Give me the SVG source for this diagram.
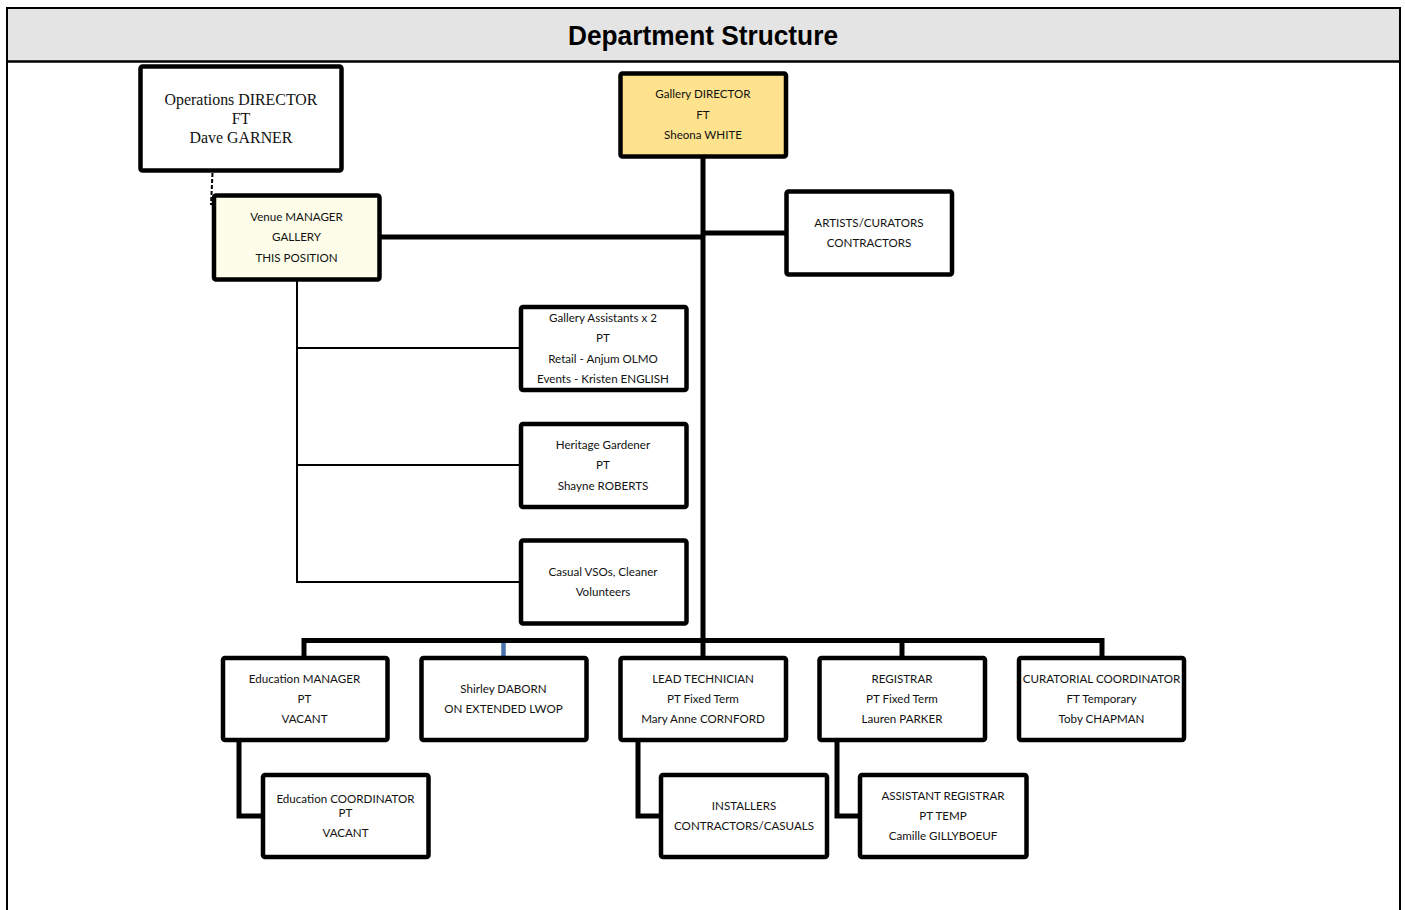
<svg xmlns="http://www.w3.org/2000/svg" width="1405" height="910" viewBox="0 0 1405 910">
<style>
.box{fill:#fff;stroke:#000;stroke-width:4.5}
.t{font-family:Lato,"Open Sans","Liberation Sans",sans-serif;font-size:11.6px;fill:#111;text-anchor:middle}
.ts{font-family:"Liberation Serif","Times New Roman",serif;font-size:15.9px;fill:#111;text-anchor:middle}
.c{fill:none;stroke:#000;stroke-width:5}
.cthin{fill:none;stroke:#000;stroke-width:2}
</style>
<rect x="0" y="0" width="1405" height="910" fill="#fff"/>
<g id="frame">
<rect x="7" y="8" width="1393" height="53" fill="#e4e4e4"/>
<path d="M7,920 V8 H1400 V920" fill="none" stroke="#000" stroke-width="2"/>
<line x1="7" y1="61.5" x2="1400" y2="61.5" stroke="#000" stroke-width="2.5"/>
<text x="703" y="45" font-family="'Liberation Sans',Arial,sans-serif" font-weight="bold" font-size="28" text-anchor="middle" textLength="270" lengthAdjust="spacingAndGlyphs" fill="#000">Department Structure</text>
</g>
<g id="connectors">
<line x1="212.5" y1="173" x2="211" y2="205" stroke="#000" stroke-width="2" stroke-dasharray="4,2"/>
<line x1="703" y1="157" x2="703" y2="658" class="c"/>
<line x1="379" y1="237" x2="703" y2="237" class="c"/>
<line x1="703" y1="233" x2="786" y2="233" class="c"/>
<path d="M297,279 V582 H521 M297,348 H521 M297,465 H521" class="cthin"/>
<path d="M304,658 V640.5 H1102 V658" class="c"/>
<line x1="902" y1="640" x2="902" y2="658" class="c"/>
<line x1="503.5" y1="643" x2="503.5" y2="658" stroke="#4a72b0" stroke-width="4.5"/>
<path d="M239,739 V816 H263" class="c"/>
<path d="M638,739 V816 H661" class="c"/>
<path d="M837,739 V816 H860" class="c"/>
</g>
<g id="ops-director">
<rect x="140.5" y="66.5" width="201" height="104" rx="2" class="box"/>
<text class="ts" x="241" y="105">Operations DIRECTOR</text>
<text class="ts" x="241" y="123.5">FT</text>
<text class="ts" x="241" y="142.5">Dave GARNER</text>
</g>
<g id="venue-manager">
<rect x="214" y="195.5" width="165.5" height="84" rx="2" class="box" style="fill:#fdfde9"/>
<text class="t" x="296.5" y="221">Venue MANAGER</text>
<text class="t" x="296.5" y="241">GALLERY</text>
<text class="t" x="296.5" y="262">THIS POSITION</text>
</g>
<g id="gallery-director">
<rect x="620.5" y="73.5" width="165.5" height="83" rx="2" class="box" style="fill:#fee28d"/>
<text class="t" x="703" y="98">Gallery DIRECTOR</text>
<text class="t" x="703" y="118.5">FT</text>
<text class="t" x="703" y="139">Sheona WHITE</text>
</g>
<g id="artists">
<rect x="786.5" y="191.5" width="165.5" height="83" rx="2" class="box"/>
<text class="t" x="869" y="227">ARTISTS/CURATORS</text>
<text class="t" x="869" y="247">CONTRACTORS</text>
</g>
<g id="gallery-assistants">
<rect x="521" y="307" width="165.5" height="83" rx="2" class="box"/>
<text class="t" x="603" y="322">Gallery Assistants x 2</text>
<text class="t" x="603" y="342">PT</text>
<text class="t" x="603" y="363">Retail - Anjum OLMO</text>
<text class="t" x="603" y="383">Events - Kristen ENGLISH</text>
</g>
<g id="heritage-gardener">
<rect x="521" y="424" width="165.5" height="83" rx="2" class="box"/>
<text class="t" x="603" y="449">Heritage Gardener</text>
<text class="t" x="603" y="469">PT</text>
<text class="t" x="603" y="490">Shayne ROBERTS</text>
</g>
<g id="casual">
<rect x="521" y="540.5" width="165.5" height="83" rx="2" class="box"/>
<text class="t" x="603" y="576">Casual VSOs, Cleaner</text>
<text class="t" x="603" y="596">Volunteers</text>
</g>
<g id="education-manager">
<rect x="223" y="658" width="164.5" height="82" rx="2" class="box"/>
<text class="t" x="304.5" y="683">Education MANAGER</text>
<text class="t" x="304.5" y="703">PT</text>
<text class="t" x="304.5" y="723">VACANT</text>
</g>
<g id="shirley">
<rect x="421.5" y="658" width="165" height="82" rx="2" class="box"/>
<text class="t" x="503.5" y="693">Shirley DABORN</text>
<text class="t" x="503.5" y="713">ON EXTENDED LWOP</text>
</g>
<g id="lead-technician">
<rect x="620.5" y="658" width="165.5" height="82" rx="2" class="box"/>
<text class="t" x="703" y="683">LEAD TECHNICIAN</text>
<text class="t" x="703" y="703">PT Fixed Term</text>
<text class="t" x="703" y="723">Mary Anne CORNFORD</text>
</g>
<g id="registrar">
<rect x="819.5" y="658" width="165.5" height="82" rx="2" class="box"/>
<text class="t" x="902" y="683">REGISTRAR</text>
<text class="t" x="902" y="703">PT Fixed Term</text>
<text class="t" x="902" y="723">Lauren PARKER</text>
</g>
<g id="curatorial-coordinator">
<rect x="1019" y="658" width="165" height="82" rx="2" class="box"/>
<text class="t" x="1101.5" y="683">CURATORIAL COORDINATOR</text>
<text class="t" x="1101.5" y="703">FT Temporary</text>
<text class="t" x="1101.5" y="723">Toby CHAPMAN</text>
</g>
<g id="education-coordinator">
<rect x="263" y="775" width="165.5" height="82" rx="2" class="box"/>
<text class="t" x="345.5" y="803">Education COORDINATOR</text>
<text class="t" x="345.5" y="817">PT</text>
<text class="t" x="345.5" y="837">VACANT</text>
</g>
<g id="installers">
<rect x="661" y="775" width="166" height="82" rx="2" class="box"/>
<text class="t" x="744" y="810">INSTALLERS</text>
<text class="t" x="744" y="830">CONTRACTORS/CASUALS</text>
</g>
<g id="assistant-registrar">
<rect x="860" y="775" width="166.5" height="82" rx="2" class="box"/>
<text class="t" x="943" y="800">ASSISTANT REGISTRAR</text>
<text class="t" x="943" y="820">PT TEMP</text>
<text class="t" x="943" y="840">Camille GILLYBOEUF</text>
</g>
</svg>
